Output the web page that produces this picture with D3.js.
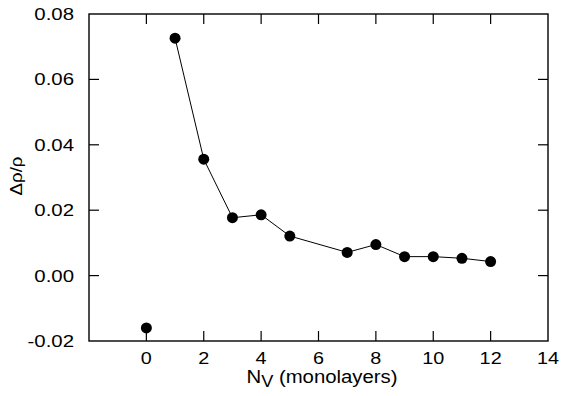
<!DOCTYPE html>
<html>
<head>
<meta charset="utf-8">
<script src="https://cdn.jsdelivr.net/npm/d3@7"></script>
<style>
  body { margin: 0; background: #fff; }
  svg { display: block; font-family: "Liberation Sans", Arial, sans-serif; }
</style>
</head>
<body>
<svg id="chart" width="562" height="396"></svg>
<script>
// ── data ──
const layers = [1, 2, 3, 4, 5, 7, 8, 9, 10, 11, 12];
const drho   = [0.0726, 0.0356, 0.0177, 0.0186, 0.0121, 0.0071, 0.0095, 0.0058, 0.0058, 0.0053, 0.0043];
const bulkX = [0];
const bulkY = [-0.016];

const xTicks = [0, 2, 4, 6, 8, 10, 12, 14];
const yTicks = [-0.02, 0, 0.02, 0.04, 0.06, 0.08];

const W = 562, H = 396;
const M = { top: 14, right: 14, bottom: 55, left: 89 };

const svg = d3.select('#chart');
const x = d3.scaleLinear().domain([-2, 14]).range([M.left, W - M.right]);
const y = d3.scaleLinear().domain([-0.02, 0.08]).range([H - M.bottom, M.top]);

const TICK = 10;
const STRETCH = 1.2;   // the original lettering is wider than Liberation Sans
const g = svg.append('g');

// frame
g.append('rect')
  .attr('x', x(-2)).attr('y', y(0.08))
  .attr('width', x(14) - x(-2)).attr('height', y(-0.02) - y(0.08))
  .attr('fill', 'none').attr('stroke', '#000').attr('stroke-width', 1.4);

// inward ticks on all four sides
const tickStyle = sel => sel.attr('stroke', '#000').attr('stroke-width', 1.2);
xTicks.filter(d => d < 14).forEach(d => {
  g.append('line').attr('x1', x(d)).attr('x2', x(d))
    .attr('y1', y(-0.02)).attr('y2', y(-0.02) - TICK).call(tickStyle);
  g.append('line').attr('x1', x(d)).attr('x2', x(d))
    .attr('y1', y(0.08)).attr('y2', y(0.08) + TICK).call(tickStyle);
});
yTicks.filter(d => d > -0.02 && d < 0.08).forEach(d => {
  g.append('line').attr('x1', x(-2)).attr('x2', x(-2) + TICK)
    .attr('y1', y(d)).attr('y2', y(d)).call(tickStyle);
  g.append('line').attr('x1', x(14)).attr('x2', x(14) - TICK)
    .attr('y1', y(d)).attr('y2', y(d)).call(tickStyle);
});

// tick labels
g.selectAll('.xl').data(xTicks).join('text')
  .attr('class', 'xl')
  .attr('transform', d => `translate(${x(d)},364) scale(${STRETCH},1)`)
  .attr('text-anchor', 'middle')
  .attr('font-size', '16.5px')
  .text(d => d);

g.selectAll('.yl').data(yTicks).join('text')
  .attr('class', 'yl')
  .attr('transform', d => `translate(74,${y(d) + 6}) scale(${STRETCH},1)`)
  .attr('text-anchor', 'end')
  .attr('font-size', '17px')
  .text(d => d3.format('.2f')(d).replace('−', '-'));

// axis titles
const xt = g.append('text')
  .attr('transform', `translate(322,383) scale(1.1,1)`)
  .attr('text-anchor', 'middle')
  .attr('font-size', '18.5px');
xt.append('tspan').text('N');
xt.append('tspan').attr('dy', 4).attr('font-size', '16.5px').text('V');
xt.append('tspan').attr('dy', -4).text(' (monolayers)');

g.append('text')
  .attr('transform', `translate(22,176) rotate(-90) scale(1.1,1)`)
  .attr('text-anchor', 'middle')
  .attr('font-size', '17px')
  .text('Δρ/ρ');

// connecting line
const pts = layers.map((n, i) => [n, drho[i]]);
g.append('path')
  .datum(pts)
  .attr('fill', 'none').attr('stroke', '#000').attr('stroke-width', 1)
  .attr('d', d3.line().x(d => x(d[0])).y(d => y(d[1])));

// markers
g.selectAll('.pt').data(pts).join('circle')
  .attr('class', 'pt')
  .attr('cx', d => x(d[0])).attr('cy', d => y(d[1]))
  .attr('r', 5.5).attr('fill', '#000');

g.selectAll('.bulk').data(bulkX.map((n, i) => [n, bulkY[i]])).join('circle')
  .attr('class', 'bulk')
  .attr('cx', d => x(d[0])).attr('cy', d => y(d[1]))
  .attr('r', 5.5).attr('fill', '#000');
</script>
</body>
</html>
